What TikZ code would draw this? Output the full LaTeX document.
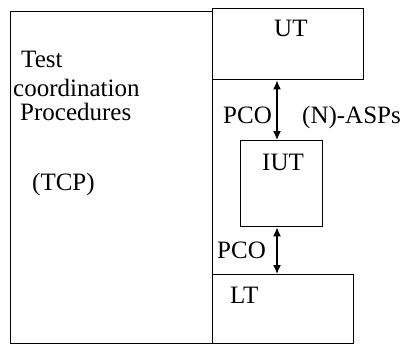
\documentclass[tikz,border=0pt]{standalone}
\usepackage{fontspec}
\setmainfont{Liberation Serif}
\usetikzlibrary{arrows.meta, positioning}

\begin{document}
\begin{tikzpicture}[x=1pt, y=-1pt,
    box/.style={rectangle, draw, line width=1.4pt, inner sep=0pt, anchor=north west},
    lbl/.style={inner sep=0pt, anchor=base west, font=\fontsize{25}{30}\selectfont},
    pco/.style={{Latex[length=9pt,width=8pt]}-{Latex[length=9pt,width=8pt]}, line width=1.4pt}]

    \useasboundingbox (0,0) rectangle (406,346);

    % boxes
    \node[box, minimum width=202pt, minimum height=332pt] (tcp) at (10,11) {};
    \node[box, minimum width=151pt, minimum height=71pt] (ut) at (212,8) {};
    \node[box, minimum width=82pt, minimum height=86pt] (iut) at (240,140) {};
    \node[box, minimum width=141pt, minimum height=69pt] (lt) at (212,274) {};

    % texts
    \node[lbl] (t1) at (21,67) {Test};
    \node[lbl] (t2) at (13,96) {coordination};
    \node[lbl] (t3) at (20,120) {Procedures};
    \node[lbl] (t4) at (32,190) {(TCP)};
    \node[lbl] (utl) at (274,36) {UT};
    \node[lbl] (iutl) at (262,170) {IUT};
    \node[lbl] (ltl) at (230,303) {LT};
    \node[lbl] (pco1) at (223,123) {PCO};
    \node[lbl] (asps) at (302,123) {(N)-ASPs};
    \node[lbl] (pco2) at (217,258) {PCO};

    % connectors
    \coordinate (ax) at (277,0);
    \draw[pco] (ut.south -| ax) -- (iut.north -| ax);
    \draw[pco] (iut.south -| ax) -- (lt.north -| ax);
\end{tikzpicture}
\end{document}
